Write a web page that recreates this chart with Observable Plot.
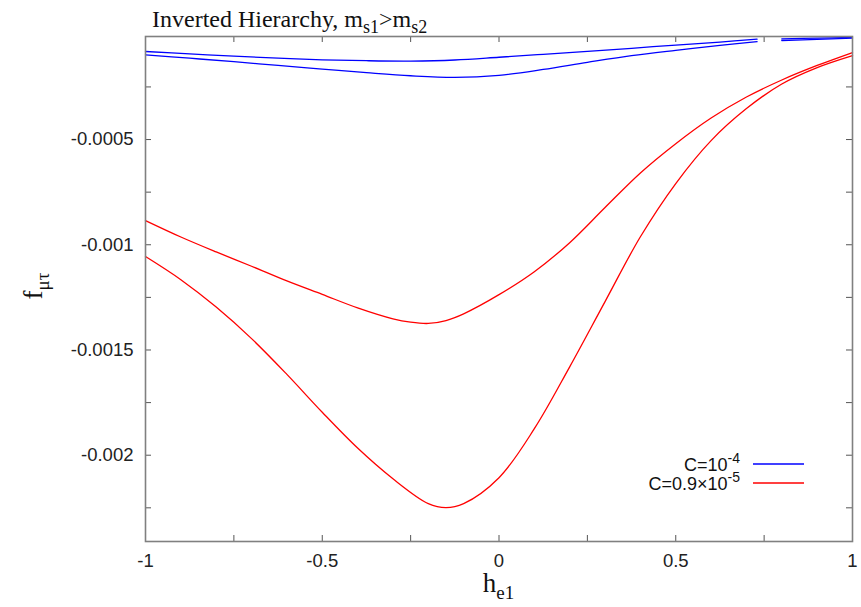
<!DOCTYPE html>
<html>
<head>
<meta charset="utf-8">
<script src="https://cdn.jsdelivr.net/npm/d3@7"></script>
<script src="https://cdn.jsdelivr.net/npm/@observablehq/plot@0.6"></script>
<style>
  body { margin: 0; background: #fff; }
</style>
</head>
<body>
<div id="chart"></div>
<script>
// ---- data ----
// C = 1e-4 (blue), two branches
const blueH = [-1, -0.875, -0.75, -0.625, -0.5, -0.375, -0.25, -0.125, 0, 0.125, 0.25, 0.375, 0.5, 0.625, 0.73, 0.765, 0.8, 0.9, 1];
const blueUpperF = [-0.0000817, -0.000093, -0.000104, -0.000113, -0.000121, -0.0001255, -0.000127, -0.000122, -0.000109, -0.000095, -0.000081, -0.0000665, -0.000051, -0.000037, -0.000023, null, -0.000022, -0.000018, -0.000015];
const blueLowerF = [-0.0000974, -0.0001136, -0.00013, -0.000148, -0.000165, -0.000182, -0.000197, -0.000205, -0.000195, -0.000167, -0.000133, -0.000101, -0.000076, -0.000053, -0.000035, null, -0.0000295, -0.000024, -0.0000185];

// C = 0.9e-5 (red), two branches
const redUpperH = [-1, -0.9, -0.8, -0.7, -0.6, -0.5, -0.4, -0.3, -0.25, -0.2, -0.15, -0.1, 0, 0.1, 0.2, 0.3, 0.4, 0.5, 0.6, 0.7, 0.8, 0.9, 1];
const redUpperF = [-0.000885, -0.000963, -0.001034, -0.001102, -0.001172, -0.001236, -0.0013, -0.001352, -0.001368, -0.001374, -0.00136, -0.001328, -0.001237, -0.001128, -0.00099, -0.000823, -0.000659, -0.00052, -0.000398, -0.000298, -0.000217, -0.000148, -0.0000865];
const redLowerH = [-1, -0.9, -0.8, -0.7, -0.6, -0.5, -0.4, -0.3, -0.2, -0.15, -0.1, 0, 0.1, 0.2, 0.3, 0.4, 0.5, 0.6, 0.7, 0.8, 0.9, 1];
const redLowerF = [-0.001056, -0.001166, -0.001296, -0.001446, -0.001616, -0.001796, -0.001966, -0.002112, -0.00223, -0.002249, -0.00223, -0.002107, -0.001874, -0.00158, -0.00127, -0.000962, -0.000709, -0.000505, -0.000353, -0.000236, -0.000158, -0.000101];

// axes
const xDomain = [-1, 1];
const yDomain = [-0.00241, -0.0000104];
const xTickLabels = [-1, -0.5, 0, 0.5, 1];
const yTickLabels = [-0.002, -0.0015, -0.001, -0.0005];
const xTicks = [-0.75, -0.5, -0.25, 0, 0.25, 0.5, 0.75];
const yTicks = [-0.00225, -0.002, -0.00175, -0.0015, -0.00125, -0.001, -0.00075, -0.0005, -0.00025];

const seriesNames = ["C=10", "C=0.9\u00d710"];
const seriesExp = ["-4", "-5"];
const seriesColors = ["#0000ff", "#ff0000"];

// ---- build tables ----
const toRows = (hs, fs) => hs.map((h, i) => ({h, f: fs[i]}));
const blueUpper = toRows(blueH, blueUpperF);
const blueLower = toRows(blueH, blueLowerF);
const redUpper = toRows(redUpperH, redUpperF);
const redLower = toRows(redLowerH, redLowerF);

const W = 861, H = 607, mL = 145, mR = 9, mT = 36, mB = 66;
const plotW = W - mL - mR, plotH = H - mT - mB;
const tickLen = 6;
const tickColor = "#555";

const lineOpts = (color) => ({x: "h", y: "f", stroke: color, strokeWidth: 1.3, curve: "catmull-rom", defined: d => d.f != null});

const chart = Plot.plot({
  width: W,
  height: H,
  marginLeft: mL,
  marginRight: mR,
  marginTop: mT,
  marginBottom: mB,
  style: {fontFamily: "'Liberation Sans', Arial, sans-serif", fontSize: "18.5px", color: "#222", background: "#fff"},
  x: {domain: xDomain},
  y: {domain: yDomain},
  marks: [
    Plot.axisX({ticks: xTickLabels, tickSize: 0, tickPadding: 12, tickFormat: d => String(d), label: null}),
    Plot.axisY({ticks: yTickLabels, tickSize: 0, tickPadding: 12, tickFormat: d => String(d), label: null}),
    // inward ticks on all four sides
    Plot.tickX(xTicks, {x: d => d, insetTop: plotH - tickLen, stroke: tickColor}),
    Plot.tickX(xTicks, {x: d => d, insetBottom: plotH - tickLen, stroke: tickColor}),
    Plot.tickY(yTicks, {y: d => d, insetRight: plotW - tickLen, stroke: tickColor}),
    Plot.tickY(yTicks, {y: d => d, insetLeft: plotW - tickLen, stroke: tickColor}),
    Plot.line(blueUpper, lineOpts(seriesColors[0])),
    Plot.line(blueLower, lineOpts(seriesColors[0])),
    Plot.line(redUpper, lineOpts(seriesColors[1])),
    Plot.line(redLower, lineOpts(seriesColors[1])),
    Plot.frame({stroke: "#808080", strokeWidth: 1.6})
  ]
});

const svg = d3.select(chart);
const xs = chart.scale("x");

// title
const title = svg.append("text")
  .attr("x", 152).attr("y", 27)
  .attr("text-anchor", "start")
  .attr("font-family", "'Liberation Serif', 'Times New Roman', serif")
  .attr("font-size", 24).attr("fill", "#111");
title.append("tspan").text("Inverted Hierarchy, m");
title.append("tspan").attr("font-size", 18).attr("dy", 6).text("s1");
title.append("tspan").attr("dy", -6).text(">m");
title.append("tspan").attr("font-size", 18).attr("dy", 6).text("s2");

// x label
const xl = svg.append("text")
  .attr("x", xs.apply(0)).attr("y", 592)
  .attr("text-anchor", "middle")
  .attr("font-family", "'Liberation Serif', 'Times New Roman', serif")
  .attr("font-size", 27).attr("fill", "#111");
xl.append("tspan").text("h");
xl.append("tspan").attr("font-size", 19).attr("dy", 7).text("e1");

// y label (rotated)
const yl = svg.append("text")
  .attr("transform", "translate(42,286) rotate(-90)")
  .attr("text-anchor", "middle")
  .attr("font-family", "'Liberation Serif', 'Times New Roman', serif")
  .attr("font-size", 27).attr("fill", "#111");
yl.append("tspan").text("f");
yl.append("tspan").attr("font-size", 19).attr("dy", 7).text("\u03bc\u03c4");

// legend
const legendY = [471, 490];
seriesNames.forEach((name, i) => {
  const t = svg.append("text")
    .attr("x", 740).attr("y", legendY[i])
    .attr("text-anchor", "end")
    .attr("font-family", "'Liberation Sans', Arial, sans-serif")
    .attr("font-size", 18).attr("fill", "#111");
  t.append("tspan").text(name);
  t.append("tspan").attr("font-size", 14).attr("dy", -8).text(seriesExp[i]);
  svg.append("line")
    .attr("x1", 753).attr("x2", 804)
    .attr("y1", legendY[i] - 7).attr("y2", legendY[i] - 7)
    .attr("stroke", seriesColors[i]).attr("stroke-width", 1.3);
});

document.getElementById("chart").appendChild(chart);
</script>
</body>
</html>
